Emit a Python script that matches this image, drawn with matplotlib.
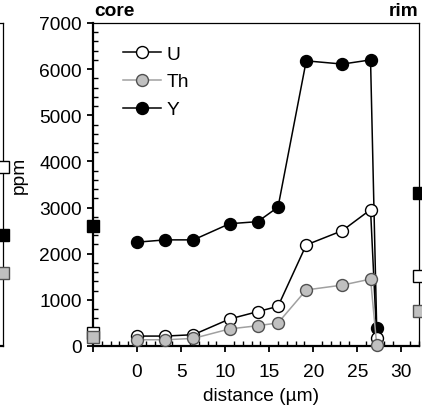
import matplotlib
matplotlib.use("Agg")
import matplotlib.pyplot as plt
from matplotlib.ticker import MultipleLocator
from matplotlib.lines import Line2D

plt.rcParams['font.family'] = ['Liberation Sans', 'DejaVu Sans']

# traverse core -> rim
dist = [0, 3.2, 6.4, 10.5, 13.7, 16.0, 19.2, 23.3, 26.5, 27.2]
U = [215, 215, 245, 585, 745, 860, 2190, 2500, 2955, 175]
Th = [135, 135, 165, 370, 440, 500, 1215, 1320, 1450, 30]
Y = [2250, 2300, 2300, 2650, 2695, 3010, 6180, 6110, 6200, 380]

# bulk values shown as squares on the frame
core_U, core_Th, core_Y = 290, 190, 2600
rim_U, rim_Th, rim_Y = 1520, 750, 3310
# rim squares of the neighbouring panel
prev_U, prev_Th, prev_Y = 3870, 1580, 2405

x_min, x_max = -5, 32
y_max = 7000

grey_line = '#a0a0a0'
grey_fill = '#c0c0c0'
grey_edge = '#505050'
fs = 13.8

fig = plt.figure(figsize=(4.22, 4.06), dpi=100)
ax = fig.add_axes([93 / 422, 59 / 406, 326 / 422, 323 / 406])

style = dict(markersize=8.6, markeredgewidth=1.0, linewidth=1.1, clip_on=False)
ax.plot(dist, Y, '-o', color='black', mfc='black', mec='black', zorder=3, **style)
ax.plot(dist, U, '-o', color='black', mfc='white', mec='black', zorder=4, **style)
ax.plot(dist, Th, '-o', color=grey_line, mfc=grey_fill, mec=grey_edge, zorder=5, **style)

sq = dict(marker='s', markersize=9, markeredgewidth=1.0, linestyle='none',
          clip_on=False, zorder=6)
for xv, (u, th, y) in ((x_min, (core_U, core_Th, core_Y)),
                       (x_max, (rim_U, rim_Th, rim_Y))):
    ax.plot([xv], [y], mfc='black', mec='black', **sq)
    ax.plot([xv], [u], mfc='white', mec='black', **sq)
    ax.plot([xv], [th], mfc=grey_fill, mec=grey_edge, **sq)

ax.set_xlim(x_min, x_max)
ax.set_ylim(0, y_max)
ax.set_xticks(range(-5, 31, 5))
ax.set_xticklabels([''] + [str(v) for v in range(0, 31, 5)])
ax.set_yticks(range(0, 7001, 1000))
ax.xaxis.set_minor_locator(MultipleLocator(1))
ax.yaxis.set_minor_locator(MultipleLocator(200))
ax.tick_params(which='major', direction='out', length=4, width=1.3,
               labelsize=fs, pad=4)
ax.tick_params(axis='x', which='major', pad=8)
ax.tick_params(which='minor', direction='in', length=3.5, width=1.0)
ax.tick_params(top=False, right=False)

for side in ('left', 'bottom'):
    ax.spines[side].set_linewidth(1.6)
for side in ('top', 'right'):
    ax.spines[side].set_linewidth(0.9)

ax.set_xlabel('distance (µm)', fontsize=fs)
ax.xaxis.set_label_coords(0.515, -0.127)
ax.set_ylabel('ppm', fontsize=fs)
ax.yaxis.set_label_coords(-0.2, 0.53)

ax.text(0.005, 1.025, 'core', transform=ax.transAxes, fontsize=fs,
        fontweight='bold', ha='left', va='baseline')
ax.text(1.0, 1.025, 'rim', transform=ax.transAxes, fontsize=fs,
        fontweight='bold', ha='right', va='baseline')

handles = [
    Line2D([], [], color='black', marker='o', mfc='white', mec='black',
           markersize=8.6, linewidth=1.1),
    Line2D([], [], color=grey_line, marker='o', mfc=grey_fill, mec=grey_edge,
           markersize=8.6, linewidth=1.1),
    Line2D([], [], color='black', marker='o', mfc='black', mec='black',
           markersize=8.6, linewidth=1.1),
]
ax.legend(handles, ['U', 'Th', 'Y'], loc='upper left', frameon=False,
          fontsize=fs, handlelength=2.0, handletextpad=0.3,
          labelspacing=0.55, bbox_to_anchor=(0.038, 0.985))

# edge of the neighbouring panel
axp = fig.add_axes([-0.5, 59 / 406, 0.5 + 3 / 422, 323 / 406])
axp.set_xlim(0, 1)
axp.set_ylim(0, y_max)
axp.set_xticks([])
axp.set_yticks([])
axp.spines['left'].set_visible(False)
axp.spines['right'].set_linewidth(0.9)
axp.spines['top'].set_linewidth(0.9)
axp.spines['bottom'].set_linewidth(1.6)
axp.plot([1], [prev_Y], mfc='black', mec='black', **sq)
axp.plot([1], [prev_U], mfc='white', mec='black', **sq)
axp.plot([1], [prev_Th], mfc=grey_fill, mec=grey_edge, **sq)

fig.savefig('out.png', dpi=100)
